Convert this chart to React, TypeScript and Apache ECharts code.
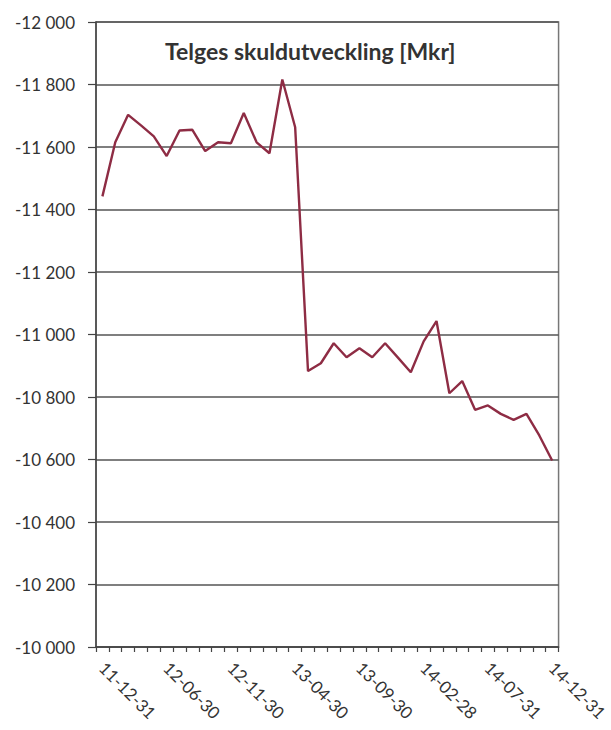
import React, { useEffect, useRef } from "react";
import * as echarts from "echarts";

const titleText = "Telges skuldutveckling [Mkr]";

const categories = [
  "11-12-31", "12-02-29", "12-03-31", "12-04-30", "12-05-31",
  "12-06-30", "12-07-31", "12-08-31", "12-09-30", "12-10-31",
  "12-11-30", "12-12-31", "13-01-31", "13-02-28", "13-03-31",
  "13-04-30", "13-05-31", "13-06-30", "13-07-31", "13-08-31",
  "13-09-30", "13-10-31", "13-11-30", "13-12-31", "14-01-31",
  "14-02-28", "14-03-31", "14-04-30", "14-05-31", "14-06-30",
  "14-07-31", "14-08-31", "14-09-30", "14-10-31", "14-11-30",
  "14-12-31",
];

const debt = [
  -11442, -11615, -11703, -11669, -11634, -11571, -11653, -11655, -11587, -11615,
  -11612, -11709, -11615, -11580, -11816, -11663, -10883, -10908, -10972, -10927,
  -10956, -10927, -10972, -10926, -10879, -10978, -11043, -10812, -10851, -10759,
  -10773, -10746, -10727, -10746, -10677, -10597,
];

const yMin = -12000;
const yMax = -10000;
const yStep = 200;

const fmt = (v: number) => {
  const s = Math.abs(v).toString();
  const withSpace = s.replace(/\B(?=(\d{3})+(?!\d))/g, " ");
  return (v < 0 ? "-" : "") + withSpace;
};

export default function App() {
  const ref = useRef<HTMLDivElement>(null);
  useEffect(() => {
    document.body.style.margin = "0";
    const chart = echarts.init(ref.current!, null, { renderer: "svg" });
    const font = "Lato, 'Open Sans', sans-serif";
    chart.setOption({
      animation: false,
      backgroundColor: "#ffffff",
      title: {
        text: titleText,
        left: 160,
        top: 34,
        textStyle: { fontFamily: font, fontSize: 23, fontWeight: "bold", color: "#333" },
      },
      grid: {
        left: 96,
        right: 49,
        top: 22,
        bottom: 83,
        show: true,
        borderColor: "#777",
        borderWidth: 1.5,
        containLabel: false,
      },
      xAxis: {
        type: "category",
        data: categories,
        boundaryGap: true,
        axisLine: { lineStyle: { color: "#444", width: 1.5 } },
        axisTick: { show: true, length: 5, interval: 0, lineStyle: { color: "#444", width: 1.2 } },
        axisLabel: {
          interval: 4,
          rotate: -45,
          margin: 18,
          fontFamily: font,
          fontSize: 17,
          color: "#333",
        },
        splitLine: { show: false },
      },
      yAxis: {
        type: "value",
        inverse: true,
        min: yMin,
        max: yMax,
        interval: yStep,
        axisLine: { show: true, lineStyle: { color: "#444", width: 1.5 } },
        axisTick: { show: true, length: 8, lineStyle: { color: "#444", width: 1.2 } },
        axisLabel: {
          formatter: (v: number) => fmt(v),
          margin: 21,
          fontFamily: font,
          fontSize: 17,
          color: "#333",
        },
        splitLine: { show: true, lineStyle: { color: "#555", width: 1.5 } },
      },
      series: [
        {
          type: "line",
          data: debt,
          symbol: "none",
          lineStyle: { color: "#8e2c44", width: 2.4 },
        },
      ],
    });
    return () => chart.dispose();
  }, []);
  return <div ref={ref} style={{ width: 611, height: 730 }} />;
}
